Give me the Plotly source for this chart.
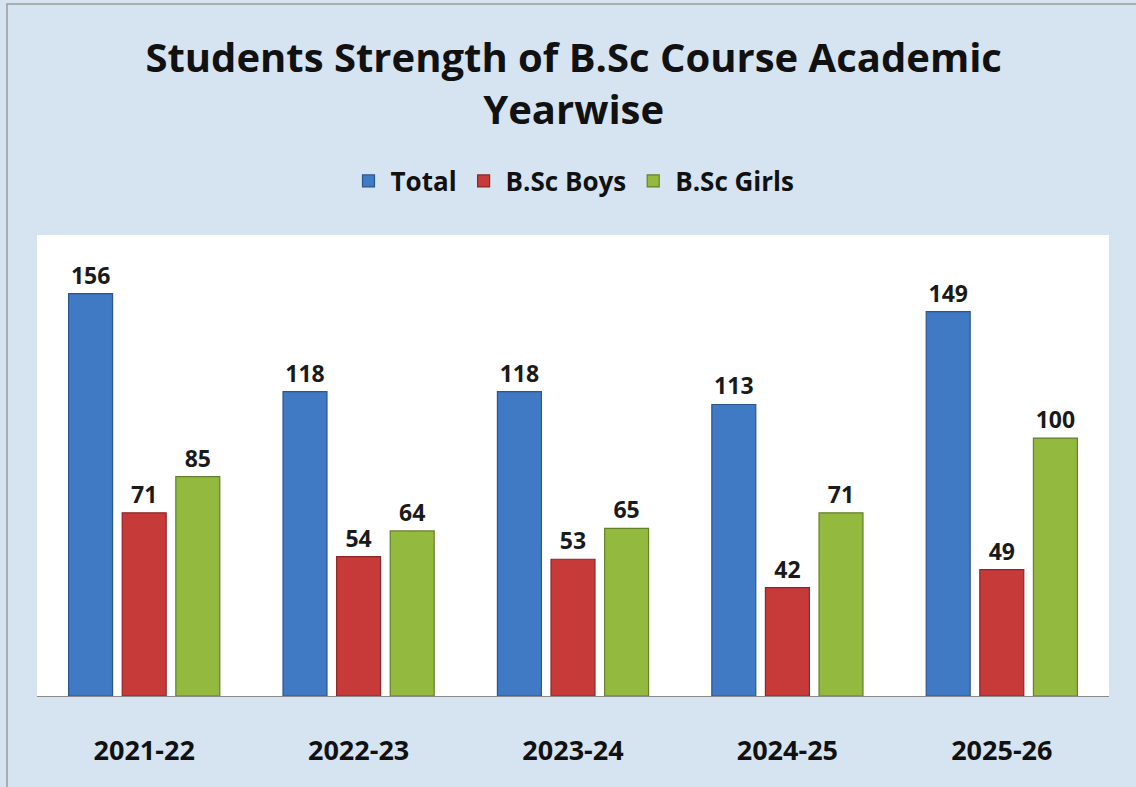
import plotly.graph_objects as go

years = ["2021-22", "2022-23", "2023-24", "2024-25", "2025-26"]
total = [156, 118, 118, 113, 149]
boys = [71, 54, 53, 42, 49]
girls = [85, 64, 65, 71, 100]

series = [
    ("Total", total, "#4079c4", "#2a5690"),
    ("B.Sc Boys", boys, "#c73a3a", "#8e2626"),
    ("B.Sc Girls", girls, "#93b93e", "#657f2a"),
]

FONT = "Open Sans"

fig = go.Figure()
for name, vals, col, line in series:
    fig.add_trace(go.Bar(
        x=years, y=vals, name=name,
        marker=dict(color=col, line=dict(color=line, width=1.2)),
        text=vals, textposition="outside", cliponaxis=False,
        constraintext="none",
        textfont=dict(family=FONT, size=23, color="#1a1a1a", weight="bold"),
    ))

W, H = 1136, 787
ml, mr, mt, mb = 37, 27, 235, 91
pw, ph = W - ml - mr, H - mt - mb

fig.update_layout(
    width=W, height=H,
    margin=dict(l=ml, r=mr, t=mt, b=mb),
    paper_bgcolor="#d6e4f2",
    plot_bgcolor="#ffffff",
    barmode="group", bargap=0.25, bargroupgap=0.18,
    title=dict(
        text="Students Strength of B.Sc Course Academic<br>Yearwise",
        x=0.505, xanchor="center", y=1 - 72 / H, yanchor="middle",
        font=dict(family=FONT, size=40, color="#111111", weight="bold"),
    ),
    legend=dict(
        orientation="h", x=0.5, xanchor="center",
        y=(696 - 181) / ph, yanchor="middle",
        font=dict(family=FONT, size=26, color="#111111", weight="bold"),
        bgcolor="rgba(0,0,0,0)", itemwidth=34,
    ),
    xaxis=dict(
        showline=True, linecolor="#8a8a8a", linewidth=1.2,
        ticks="", showgrid=False, ticklabelstandoff=30,
        tickfont=dict(family=FONT, size=27, color="#111111", weight="bold"),
    ),
    yaxis=dict(visible=False, range=[0, 178.7], showgrid=False),
    shapes=[dict(
        type="rect", xref="paper", yref="paper",
        x0=(7 - ml) / pw, x1=(W + 20 - ml) / pw,
        y0=-(H - 696 + 20) / ph, y1=(696 - 4) / ph,
        line=dict(color="#9a9a9a", width=1.5), fillcolor="rgba(0,0,0,0)",
        layer="below",
    )],
    showlegend=True,
)

fig.write_html("out.html", config={"displayModeBar": False},
               post_script="document.body.style.margin='0px';")
